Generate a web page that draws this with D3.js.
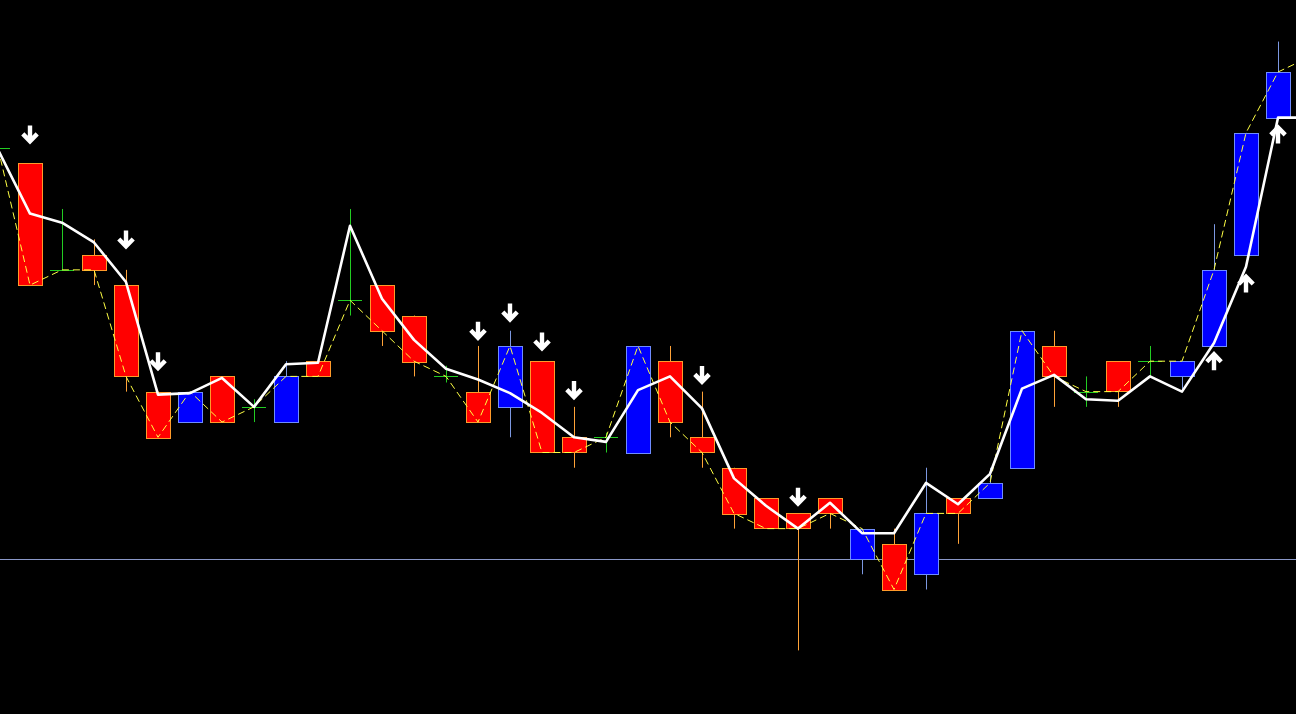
<!DOCTYPE html>
<html>
<head>
<meta charset="utf-8">
<script src="https://cdn.jsdelivr.net/npm/d3@7/dist/d3.min.js"></script>
<style>
  html, body { margin: 0; padding: 0; background: #000; overflow: hidden; }
</style>
</head>
<body>
<div class="chart-container" id="svg-container"></div>
<script>
const svgWidth = 1296;
const svgHeight = 714;
const barStep = 32;
const bodyWidth = 24;

// bar numbers, 0 is the oldest on screen, 41 sits just past the right edge
const bars = d3.range(0, 42);

const openP  = [152.7, 152.6, 151.9, 152.0, 151.8, 151.1, 150.9, 151.2, 151.0, 150.9,
                151.3, 151.7, 151.8, 151.6, 151.2, 151.1, 151.0, 151.3, 150.8, 150.8,
                150.7, 151.3, 150.8, 150.6, 150.4, 150.3, 150.4, 150.0, 150.1, 149.9,
                150.4, 150.4, 150.6, 151.4, 151.1, 151.3, 151.3, 151.2, 151.4, 152.0,
                152.9, 153.2];
const highP  = [152.8, 152.6, 152.3, 152.1, 151.9, 151.1, 151.1, 151.2, 151.05, 151.3,
                151.3, 152.3, 151.8, 151.6, 151.27, 151.4, 151.5, 151.3, 151.0, 150.83,
                151.4, 151.4, 151.1, 150.6, 150.4, 150.3, 150.4, 150.2, 150.2, 150.6,
                150.4, 150.6, 151.5, 151.5, 151.2, 151.3, 151.4, 151.3, 152.2, 152.8,
                153.4, 153.4];
const lowP   = [152.6, 151.8, 151.9, 151.8, 151.1, 150.8, 150.9, 150.9, 150.9, 150.9,
                151.2, 151.6, 151.4, 151.2, 151.16, 150.9, 150.8, 150.7, 150.6, 150.7,
                150.7, 150.8, 150.6, 150.2, 150.2, 149.4, 150.2, 149.9, 149.8, 149.8,
                150.1, 150.4, 150.6, 151.0, 151.0, 151.0, 151.2, 151.1, 151.4, 152.0,
                152.9, 153.1];
const closeP = [152.7, 151.8, 151.9, 151.9, 151.2, 150.8, 151.1, 150.9, 151.0, 151.2,
                151.2, 151.7, 151.5, 151.3, 151.2, 150.9, 151.4, 150.7, 150.7, 150.8,
                151.4, 150.9, 150.7, 150.3, 150.2, 150.2, 150.3, 150.2, 149.8, 150.3,
                150.3, 150.5, 151.5, 151.2, 151.1, 151.1, 151.3, 151.3, 151.9, 152.8,
                153.2, 153.3];

// white signal line
const signalLine = [152.69, 152.27, 152.21, 152.08, 151.82, 151.08, 151.09, 151.19, 151.0, 151.28,
                    151.29, 152.19, 151.71, 151.44, 151.25, 151.18, 151.09, 150.96, 150.8, 150.77,
                    151.11, 151.2, 150.99, 150.53, 150.35, 150.2, 150.37, 150.17, 150.17, 150.5,
                    150.36, 150.56, 151.12, 151.21, 151.05, 151.04, 151.2, 151.1, 151.42, 151.92,
                    152.9, 152.9];

// sell / buy arrows: bar number and price of the arrow
const sellBars   = [1, 4, 5, 15, 16, 17, 18, 22, 25];
const sellPrices = [152.79, 152.1, 151.3, 151.5, 151.62, 151.43, 151.11, 151.21, 150.41];
const buyBars    = [38, 39, 40];
const buyPrices  = [151.3, 151.81, 152.79];

const priceLine = 150.0;

function buildCandles() {
    return bars.map(function(b, i) {
        return {bar: b, o: openP[i], h: highP[i], l: lowP[i], c: closeP[i], s: signalLine[i]};
    });
}

function drawChart() {
    const data = buildCandles();

    const svg = d3.select(".chart-container")
                  .append("svg")
                  .attr("id", "svg-element")
                  .attr("width", svgWidth)
                  .attr("height", svgHeight)
                  .style("display", "block")
                  .style("background", "#000");

    const xScale = d3.scaleLinear()
                     .domain([0, 40])
                     .range([-2, -2 + 40 * barStep]);

    const yScale = d3.scaleLinear()
                     .domain([148.982, 153.673])
                     .range([svgHeight, 0]);

    const px = function(v) { return Math.round(v) + 0.5; };

    // bid line
    svg.append("line")
       .attr("x1", 0)
       .attr("x2", svgWidth)
       .attr("y1", px(yScale(priceLine)))
       .attr("y2", px(yScale(priceLine)))
       .attr("stroke", "#8a98c8")
       .attr("stroke-width", 1);

    const candle = svg.append("g")
                      .selectAll("g")
                      .data(data)
                      .enter()
                      .append("g");

    function kind(d) {
        if (d.c > d.o) return "up";
        if (d.c < d.o) return "down";
        return "doji";
    }
    const wickColor = {up: "#7c98e0", down: "#ffa338", doji: "#22cc22"};

    candle.append("line")
          .attr("x1", function(d) { return px(xScale(d.bar)); })
          .attr("x2", function(d) { return px(xScale(d.bar)); })
          .attr("y1", function(d) { return yScale(d.h); })
          .attr("y2", function(d) { return yScale(d.l); })
          .attr("stroke", function(d) { return wickColor[kind(d)]; })
          .attr("stroke-width", 1);

    candle.filter(function(d) { return kind(d) !== "doji"; })
          .append("rect")
          .attr("x", function(d) { return px(xScale(d.bar) - bodyWidth / 2); })
          .attr("y", function(d) { return px(yScale(Math.max(d.o, d.c))); })
          .attr("width", bodyWidth)
          .attr("height", function(d) { return Math.round(Math.abs(yScale(d.o) - yScale(d.c))); })
          .attr("fill", function(d) { return kind(d) === "up" ? "#0000ff" : "#ff0000"; })
          .attr("stroke", function(d) { return kind(d) === "up" ? "#6f8cff" : "#ff9a2a"; })
          .attr("stroke-width", 1);

    candle.filter(function(d) { return kind(d) === "doji"; })
          .append("line")
          .attr("x1", function(d) { return xScale(d.bar) - bodyWidth / 2; })
          .attr("x2", function(d) { return xScale(d.bar) + bodyWidth / 2; })
          .attr("y1", function(d) { return px(yScale(d.c)); })
          .attr("y2", function(d) { return px(yScale(d.c)); })
          .attr("stroke", wickColor.doji)
          .attr("stroke-width", 1);

    // close line, dashed yellow
    const closeLine = d3.line()
                        .x(function(d) { return xScale(d.bar); })
                        .y(function(d) { return yScale(d.c); });

    svg.append("path")
       .datum(data)
       .attr("d", closeLine)
       .attr("fill", "none")
       .attr("stroke", "#ffff44")
       .attr("stroke-width", 1)
       .attr("stroke-dasharray", "7,4");

    const sigLine = d3.line()
                      .x(function(d) { return xScale(d.bar); })
                      .y(function(d) { return yScale(d.s); });

    svg.append("path")
       .datum(data)
       .attr("d", sigLine)
       .attr("fill", "none")
       .attr("stroke", "#ffffff")
       .attr("stroke-width", 2.6)
       .attr("stroke-linejoin", "round");

    // arrows
    const downArrow = "M0,-9 L0,6.5 M-7.2,-0.5 L0,7 L7.2,-0.5";
    const upArrow = "M0,9 L0,-6.5 M-7.2,0.5 L0,-7 L7.2,0.5";

    function drawArrows(barList, priceList, shape) {
        svg.append("g")
           .selectAll("path")
           .data(barList.map(function(b, i) { return {bar: b, p: priceList[i]}; }))
           .enter()
           .append("path")
           .attr("transform", function(d) { return "translate(" + xScale(d.bar) + "," + yScale(d.p) + ")"; })
           .attr("d", shape)
           .attr("fill", "none")
           .attr("stroke", "#ffffff")
           .attr("stroke-width", 4.4)
           .attr("stroke-linejoin", "miter");
    }
    drawArrows(sellBars, sellPrices, downArrow);
    drawArrows(buyBars, buyPrices, upArrow);
}

drawChart();
</script>
</body>
</html>
